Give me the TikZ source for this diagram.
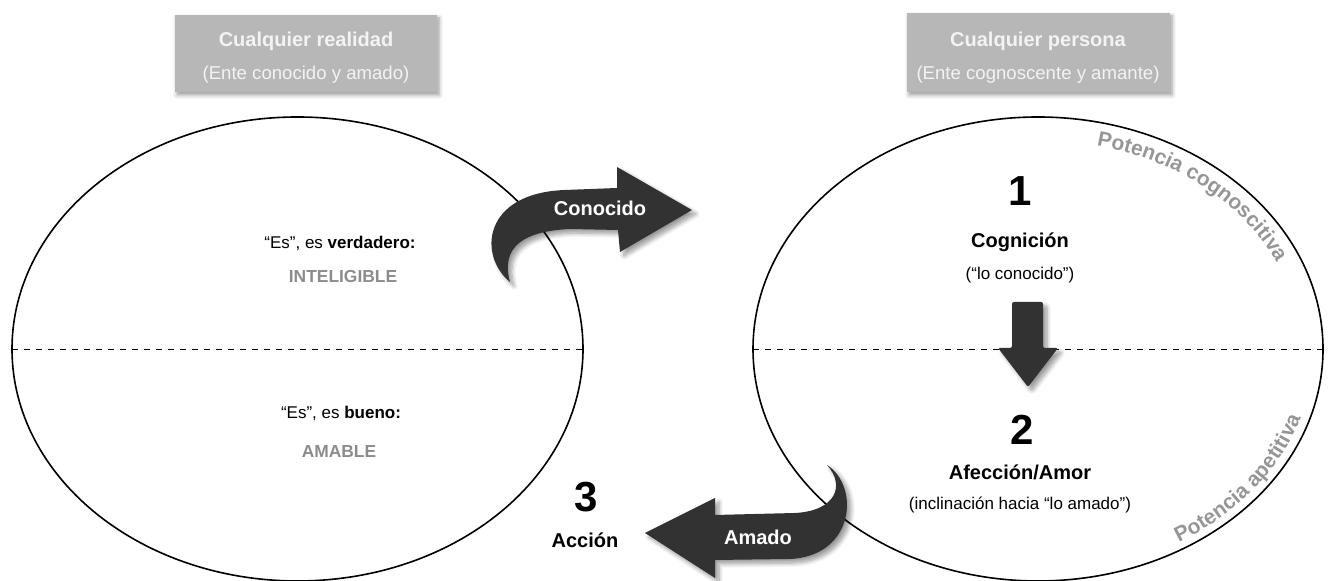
\documentclass[tikz,border=0pt]{standalone}
\usepackage{fontspec}
\setmainfont{Liberation Sans}
\usetikzlibrary{shadows.blur,decorations.text}
\definecolor{cajagris}{RGB}{183,183,183}
\definecolor{textoclaro}{RGB}{243,243,243}
\definecolor{grismedio}{RGB}{140,140,140}
\definecolor{grispotencia}{RGB}{150,150,150}
\definecolor{flechanegra}{RGB}{50,50,50}

\begin{document}
\begin{tikzpicture}[x=0.5pt,y=0.5pt,
  caja/.style={fill=cajagris, blur shadow={shadow xshift=1pt, shadow yshift=-1.5pt, shadow blur steps=5}},
  titulo/.style={text=textoclaro, font=\fontsize{10}{12}\selectfont\bfseries},
  subtitulo/.style={text=textoclaro, font=\fontsize{9.3}{11}\selectfont},
  frase/.style={font=\fontsize{8.5}{10}\selectfont},
  mayus/.style={text=grismedio, font=\fontsize{8.7}{10}\selectfont\bfseries},
  etapa/.style={font=\fontsize{10}{12}\selectfont\bfseries},
  cifra/.style={font=\fontsize{21}{25}\selectfont\bfseries},
  flecha/.style={fill=flechanegra, blur shadow={shadow xshift=2pt, shadow yshift=-2pt, shadow blur steps=8}},
  rotulo/.style={text=white, font=\fontsize{10}{12}\selectfont\bfseries}]
\useasboundingbox (0,0) rectangle (1333,581);

\fill [caja] (175,489) rectangle (437,566);
\node [titulo] (realidad) at (306,540) {Cualquier realidad}; \node [subtitulo] (ente) at (306,506) {(Ente conocido y amado)};
\fill [caja] (907,489) rectangle (1170,568);
\node [titulo] (persona) at (1038,540) {Cualquier persona}; \node [subtitulo] (cognoscente) at (1038,506) {(Ente cognoscente y amante)};

\draw [thick] (297.5,232) ellipse [x radius=285.5, y radius=232]; \draw [dashed] (12,232) -- (583,232);
\draw [thick] (1038,232) ellipse [x radius=285, y radius=232]; \draw [dashed] (753,232) -- (1323,232);

\node [frase] (verdadero) at (340,338) {“Es”, es \textbf{verdadero:}};
\node [mayus] (inteligible) at (343,304) {INTELIGIBLE};
\node [frase] (bueno) at (341,168) {“Es”, es \textbf{bueno:}};
\node [mayus] (amable) at (339,129) {AMABLE};
\node [cifra] (tres) at (586,84) {3}; \node [etapa] (accion) at (585,41) {Acción};

\node [cifra] (uno) at (1020,390) {1}; \node [etapa] (cognicion) at (1020,339) {Cognición};
\node [frase] (conocido) at (1020,306) {(“lo conocido”)};
\node [cifra] (dos) at (1022,151) {2}; \node [etapa] (afeccion) at (1020,109) {Afección/Amor};
\node [frase] (inclinacion) at (1020,76) {(inclinación hacia “lo amado”)};

\fill [flecha] (510,299) .. controls (478,325) and (482,388) .. (565,391) -- (617,393) -- (617,414) -- (692,371) -- (620,329) -- (618,351) -- (570,352) .. controls (525,350) and (500,335) .. (510,299) -- cycle;
\node [rotulo] (conocidotxt) at (600,373) {Conocido};

\fill [flecha] (827,116) .. controls (860,95) and (855,25) .. (790,22) -- (715,21) -- (715,3) -- (645,48) -- (715,83) -- (715,66) -- (795,68) .. controls (835,70) and (846,95) .. (827,116) -- cycle;
\node [rotulo] (amadotxt) at (758,44) {Amado};

\fill [flecha, rounded corners=1pt] (1012,279) -- (1043,279) -- (1043,233) -- (1058,233) -- (1028,194) -- (998,233) -- (1012,233) -- cycle;

\path [decorate, decoration={text along path, text align=center, text={|\fontsize{10.5}{12}\selectfont\bfseries\color{grispotencia}|Potencia cognoscitiva}}] (1038,232) ++(84:262 and 209) arc [start angle=84, end angle=16, x radius=262, y radius=209];
\path [decorate, decoration={text along path, text align=center, text={|\fontsize{10.5}{12}\selectfont\bfseries\color{grispotencia}|Potencia apetitiva}}] (1038,232) ++(-66:276 and 225) arc [start angle=-66, end angle=-10, x radius=276, y radius=225];

\end{tikzpicture}
\end{document}
